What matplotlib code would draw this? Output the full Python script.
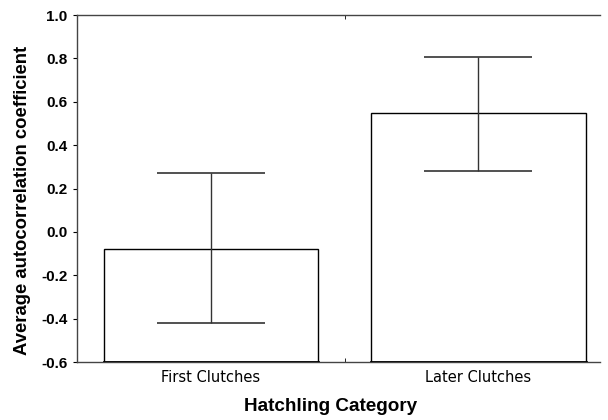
import matplotlib
matplotlib.use("Agg")
import matplotlib.pyplot as plt
import numpy as np

categories = ["First Clutches", "Later Clutches"]
means = [-0.08, 0.55]
err_upper = [0.27, 0.805]
err_lower = [-0.42, 0.28]
yticks = [-0.6, -0.4, -0.2, 0.0, 0.2, 0.4, 0.6, 0.8, 1.0]

plt.rcParams['font.family'] = ['Liberation Sans', 'DejaVu Sans']

fig = plt.figure(figsize=(6.08, 4.2), dpi=100)
ax = fig.add_axes([77/608, 58/420, 523/608, 347/420])

x = np.arange(len(categories))
base = -0.6
heights = [m - base for m in means]
ax.bar(x, heights, bottom=base, width=0.8, color='white', edgecolor='black', linewidth=1.0, zorder=2)
ax.plot([x[0]-0.4, x[0]+0.4], [base, base], color='black', lw=2, zorder=3)
ax.plot([x[1]-0.4, x[1]+0.4], [base, base], color='black', lw=2, zorder=3)

lo = [m - l for m, l in zip(means, err_lower)]
hi = [u - m for m, u in zip(means, err_upper)]
ax.errorbar(x, means, yerr=[lo, hi], fmt='none', ecolor='#333333', elinewidth=1.0,
            capsize=39, capthick=1.2, zorder=4)

ax.set_xlim(-0.5, 1.454)
ax.set_ylim(-0.6, 1.0)
ax.set_yticks(yticks)
ax.set_yticklabels([f"{t:.1f}" for t in yticks], fontsize=11, fontweight='bold')
ax.set_xticks(x)
ax.set_xticklabels(categories, fontsize=10.5, family=['DejaVu Sans'])
ax.tick_params(axis='x', length=0, pad=6)
ax.tick_params(axis='y', length=3, width=0.8, pad=4, direction='out')
ax.set_xticks([0.5], minor=True)
ax.tick_params(axis='x', which='minor', length=3, direction='in', top=True)

for s in ['left', 'top', 'bottom']:
    ax.spines[s].set_color('#444444')
    ax.spines[s].set_linewidth(1.0)
ax.spines['right'].set_visible(False)

ax.set_ylabel("Average autocorrelation coefficient", fontsize=13.3, fontweight='bold')
ax.set_xlabel("Hatchling Category", fontsize=13.6, fontweight='bold')
ax.yaxis.set_label_coords(-46/523, 0.465)
ax.xaxis.set_label_coords(0.484, -36/347)

fig.savefig("out.png", dpi=100)
